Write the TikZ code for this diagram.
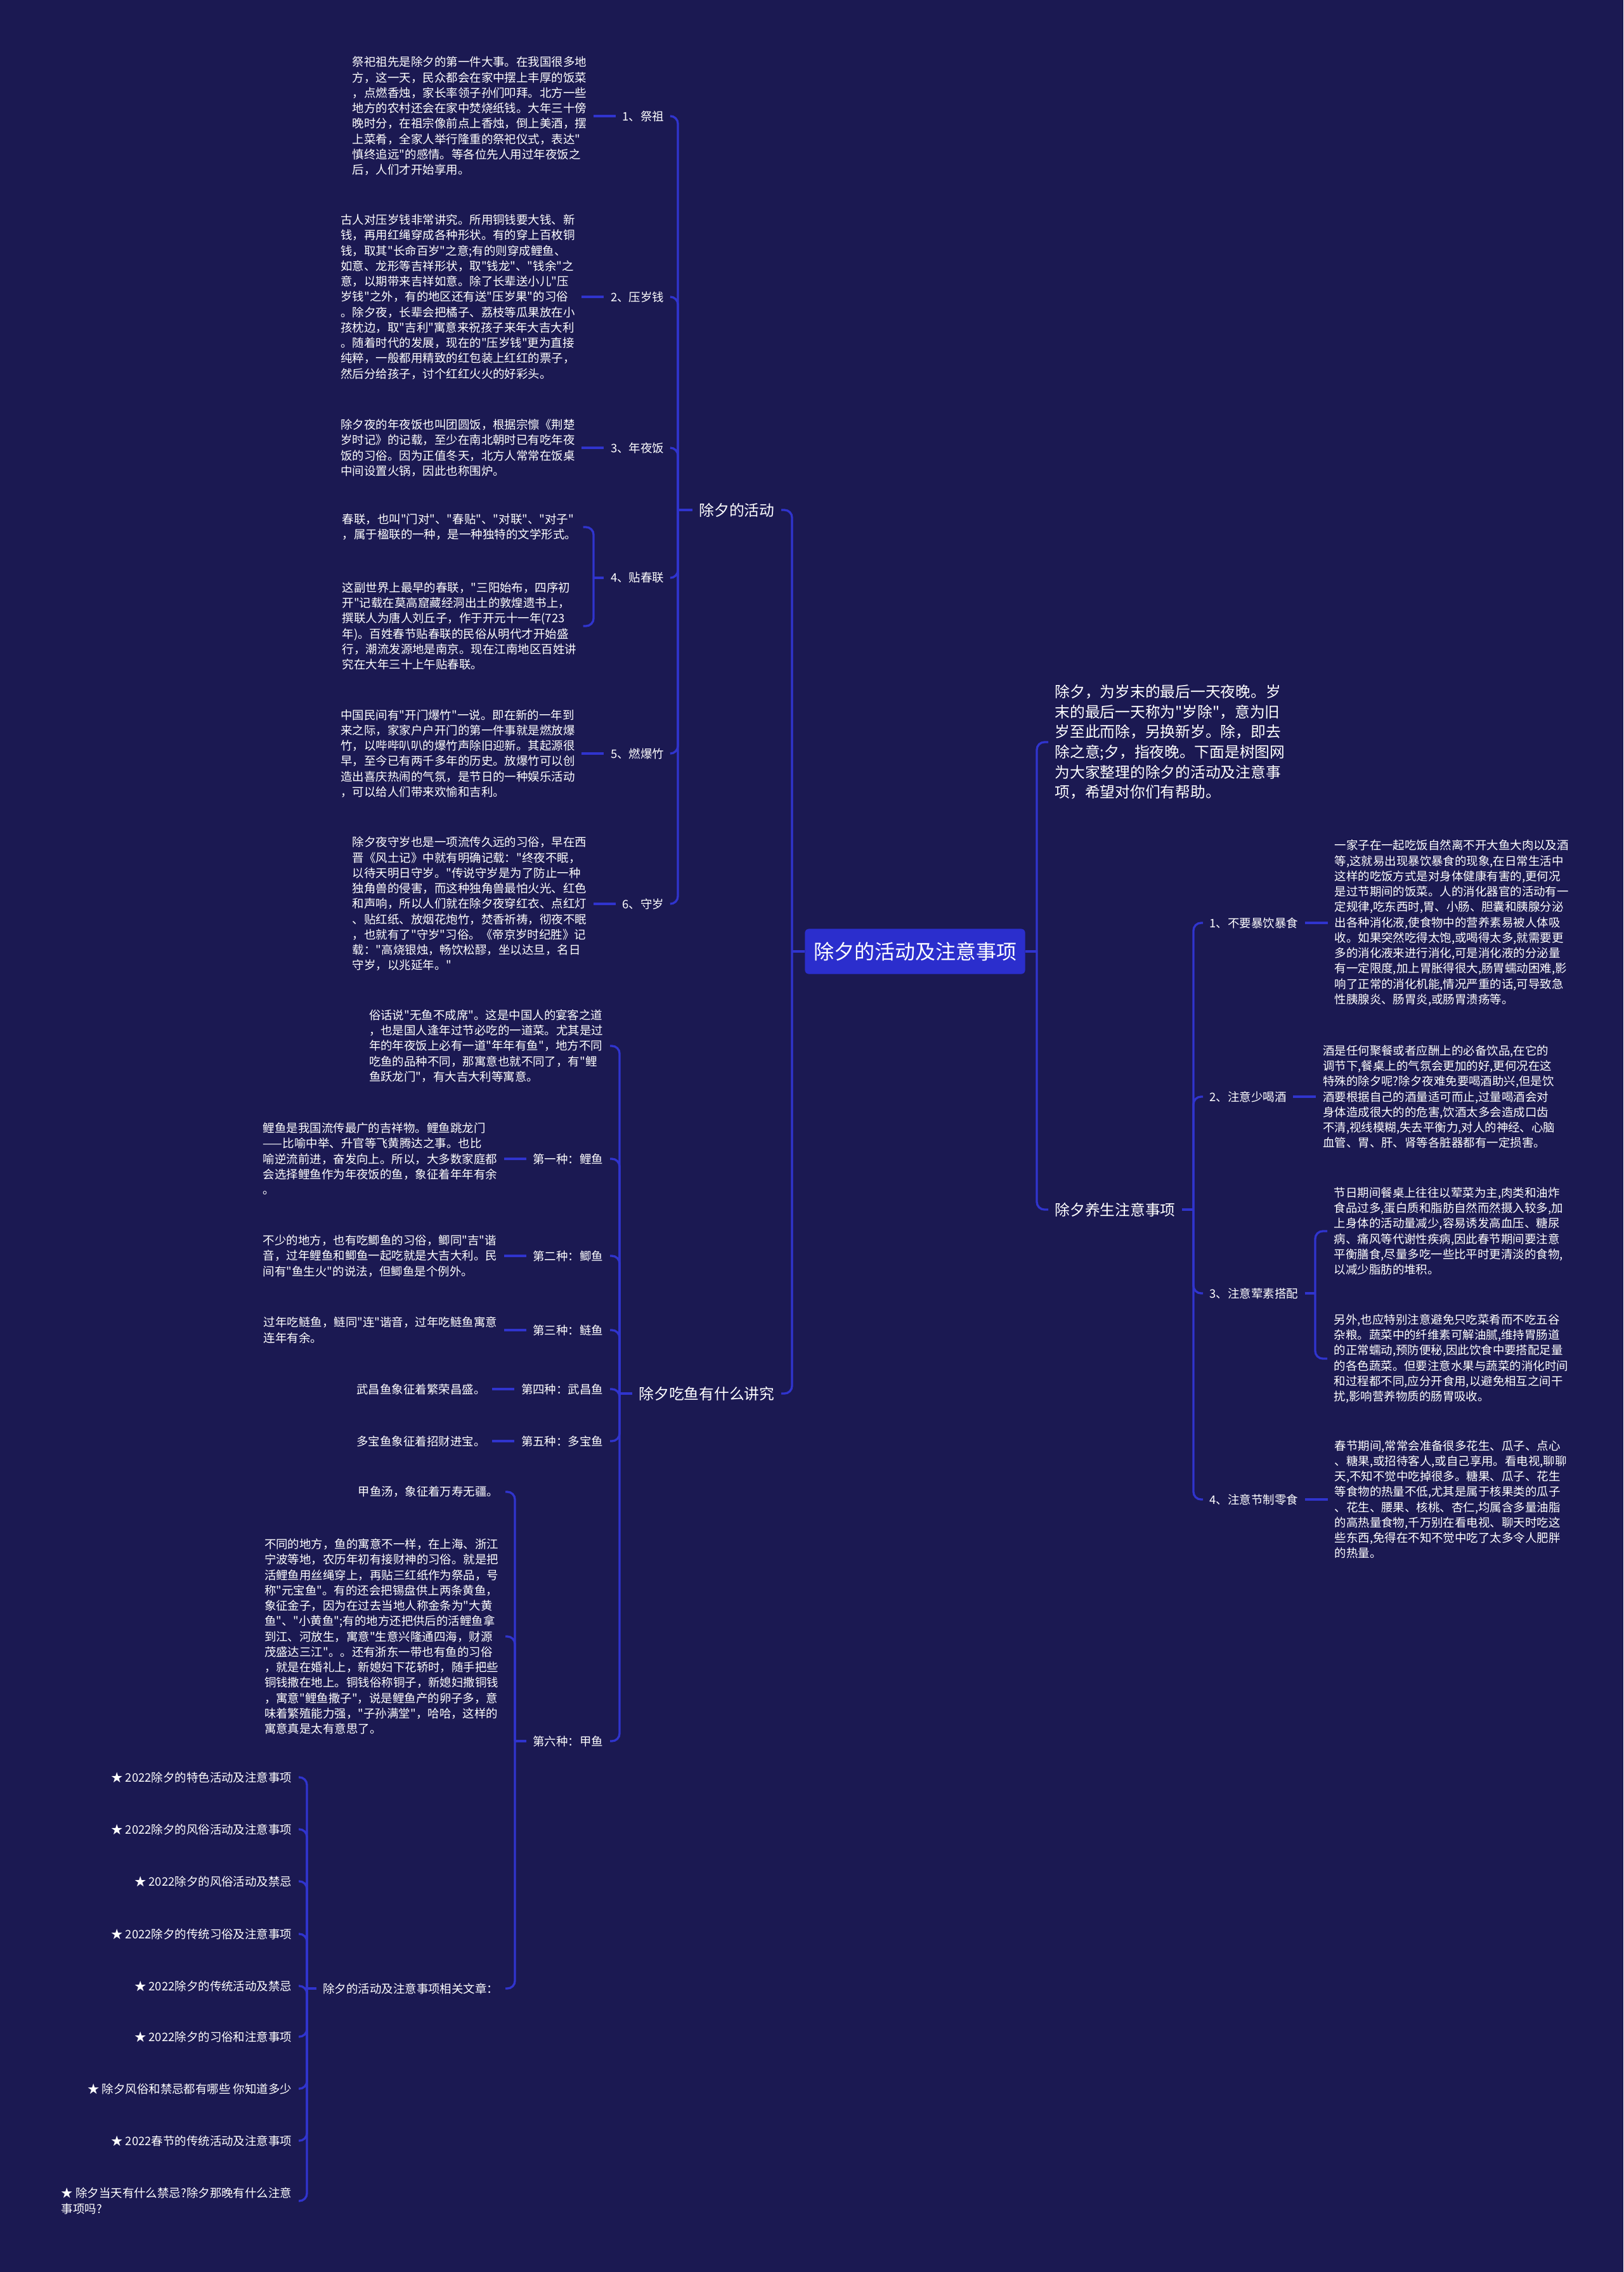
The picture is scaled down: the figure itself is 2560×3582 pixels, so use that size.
\documentclass[tikz,border=0pt]{standalone}
\usepackage{fontspec}
\setmainfont{Noto Sans CJK SC}[Ligatures=TeXOff]
\usetikzlibrary{positioning}
\definecolor{bgnavy}{RGB}{27,25,82}
\definecolor{linkblue}{RGB}{48,52,206}
\definecolor{rootblue}{RGB}{43,46,205}

\begin{document}
\begin{tikzpicture}[x=0.01cm, y=-0.01cm,
    every node/.style={text=white, inner sep=0.1cm},
    lab/.style={font=\fontsize{5.25}{6.9}\selectfont},
    para/.style={lab, align=left},
    mid/.style={font=\fontsize{6.75}{9}\selectfont, align=left},
    root/.style={fill=rootblue, rounded corners=0.06cm, font=\fontsize{9.1}{11}\selectfont, minimum width=3.47cm, minimum height=0.71cm},
    link/.style={draw=linkblue, line width=0.95pt, rounded corners=0.12cm}]

    \fill[bgnavy] (0,0) rectangle (2560,3582);
    \useasboundingbox (0,0) rectangle (2560,3582);

    % root
    \node[root] (root) at (1443,1500) {除夕的活动及注意事项};
    \coordinate (rootL) at (1249,1500);
    \coordinate (rootR) at (1635,1500);

    % right side
    \node[mid, anchor=west] (intro) at (1653,1170) {除夕，为岁末的最后一天夜晚。岁\\末的最后一天称为"岁除"，意为旧\\岁至此而除，另换新岁。除，即去\\除之意;夕，指夜晚。下面是树图网\\为大家整理的除夕的活动及注意事\\项，希望对你们有帮助。};
    \node[mid, anchor=west] (care) at (1653,1907) {除夕养生注意事项};
    \coordinate (careS) at (1882,1907);

    \node[lab, anchor=west] (care1) at (1897,1455) {1、不要暴饮暴食};
    \node[lab, anchor=west] (care2) at (1897,1729) {2、注意少喝酒};
    \node[lab, anchor=west] (care3) at (1897,2039) {3、注意荤素搭配};
    \node[lab, anchor=west] (care4) at (1897,2364) {4、注意节制零食};
    \coordinate (care3S) at (2074,2039);

    \node[para, right=0.36cm of care1] (care1t) {一家子在一起吃饭自然离不开大鱼大肉以及酒\\等,这就易出现暴饮暴食的现象,在日常生活中\\这样的吃饭方式是对身体健康有害的,更何况\\是过节期间的饭菜。人的消化器官的活动有一\\定规律,吃东西时,胃、小肠、胆囊和胰腺分泌\\出各种消化液,使食物中的营养素易被人体吸\\收。如果突然吃得太饱,或喝得太多,就需要更\\多的消化液来进行消化,可是消化液的分泌量\\有一定限度,加上胃胀得很大,肠胃蠕动困难,影\\响了正常的消化机能,情况严重的话,可导致急\\性胰腺炎、肠胃炎,或肠胃溃疡等。};
    \node[para, right=0.36cm of care2] (care2t) {酒是任何聚餐或者应酬上的必备饮品,在它的\\调节下,餐桌上的气氛会更加的好,更何况在这\\特殊的除夕呢?除夕夜难免要喝酒助兴,但是饮\\酒要根据自己的酒量适可而止,过量喝酒会对\\身体造成很大的的危害,饮酒太多会造成口齿\\不清,视线模糊,失去平衡力,对人的神经、心脑\\血管、胃、肝、肾等各脏器都有一定损害。};
    \node[para, anchor=west] (care3a) at (2093,1941) {节日期间餐桌上往往以荤菜为主,肉类和油炸\\食品过多,蛋白质和脂肪自然而然摄入较多,加\\上身体的活动量减少,容易诱发高血压、糖尿\\病、痛风等代谢性疾病,因此春节期间要注意\\平衡膳食,尽量多吃一些比平时更清淡的食物,\\以减少脂肪的堆积。};
    \node[para, anchor=west] (care3b) at (2093,2142) {另外,也应特别注意避免只吃菜肴而不吃五谷\\杂粮。蔬菜中的纤维素可解油腻,维持胃肠道\\的正常蠕动,预防便秘,因此饮食中要搭配足量\\的各色蔬菜。但要注意水果与蔬菜的消化时间\\和过程都不同,应分开食用,以避免相互之间干\\扰,影响营养物质的肠胃吸收。};
    \node[para, right=0.36cm of care4] (care4t) {春节期间,常常会准备很多花生、瓜子、点心\\、糖果,或招待客人,或自己享用。看电视,聊聊\\天,不知不觉中吃掉很多。糖果、瓜子、花生\\等食物的热量不低,尤其是属于核果类的瓜子\\、花生、腰果、核桃、杏仁,均属含多量油脂\\的高热量食物,千万别在看电视、聊天时吃这\\些东西,免得在不知不觉中吃了太多令人肥胖\\的热量。};

    \draw[link] (root.east) -- (rootR);
    \foreach \n in {intro,care} \draw[link] (\n.west) -| (rootR);
    \draw[link] (care.east) -- (careS);
    \foreach \n in {care1,care2,care3,care4} \draw[link] (\n.west) -| (careS);
    \foreach \n in {care1,care2,care4} \draw[link] (\n.east) -- (\n t.west);
    \draw[link] (care3.east) -- (care3S);
    \foreach \n in {care3a,care3b} \draw[link] (\n.west) -| (care3S);

    % left side: activities
    \node[mid, anchor=east] (act) at (1232,804) {除夕的活动};
    \coordinate (actS) at (1069,804);
    \node[lab, anchor=east] (act1) at (1058,183) {1、祭祖};
    \node[lab, anchor=east] (act2) at (1058,468) {2、压岁钱};
    \node[lab, anchor=east] (act3) at (1058,706) {3、年夜饭};
    \node[lab, anchor=east] (act4) at (1058,911) {4、贴春联};
    \node[lab, anchor=east] (act5) at (1058,1188) {5、燃爆竹};
    \node[lab, anchor=east] (act6) at (1058,1425) {6、守岁};
    \coordinate (act4S) at (936,911);

    \node[para, left=0.35cm of act1] (act1t) {祭祀祖先是除夕的第一件大事。在我国很多地\\方，这一天，民众都会在家中摆上丰厚的饭菜\\，点燃香烛，家长率领子孙们叩拜。北方一些\\地方的农村还会在家中焚烧纸钱。大年三十傍\\晚时分，在祖宗像前点上香烛，倒上美酒，摆\\上菜肴，全家人举行隆重的祭祀仪式，表达"\\慎终追远"的感情。等各位先人用过年夜饭之\\后，人们才开始享用。};
    \node[para, left=0.35cm of act2] (act2t) {古人对压岁钱非常讲究。所用铜钱要大钱、新\\钱，再用红绳穿成各种形状。有的穿上百枚铜\\钱，取其"长命百岁"之意;有的则穿成鲤鱼、\\如意、龙形等吉祥形状，取"钱龙"、"钱余"之\\意，以期带来吉祥如意。除了长辈送小儿"压\\岁钱"之外，有的地区还有送"压岁果"的习俗\\。除夕夜，长辈会把橘子、荔枝等瓜果放在小\\孩枕边，取"吉利"寓意来祝孩子来年大吉大利\\。随着时代的发展，现在的"压岁钱"更为直接\\纯粹，一般都用精致的红包装上红红的票子，\\然后分给孩子，讨个红红火火的好彩头。};
    \node[para, left=0.35cm of act3] (act3t) {除夕夜的年夜饭也叫团圆饭，根据宗懔《荆楚\\岁时记》的记载，至少在南北朝时已有吃年夜\\饭的习俗。因为正值冬天，北方人常常在饭桌\\中间设置火锅，因此也称围炉。};
    \node[para, anchor=west] (act4a) at (529,831) {春联，也叫"门对"、"春贴"、"对联"、"对子"\\，属于楹联的一种，是一种独特的文学形式。};
    \node[para, anchor=west] (act4b) at (529,987) {这副世界上最早的春联，"三阳始布，四序初\\开"记载在莫高窟藏经洞出土的敦煌遗书上，\\撰联人为唐人刘丘子，作于开元十一年(723\\年)。百姓春节贴春联的民俗从明代才开始盛\\行，潮流发源地是南京。现在江南地区百姓讲\\究在大年三十上午贴春联。};
    \node[para, left=0.35cm of act5] (act5t) {中国民间有"开门爆竹"一说。即在新的一年到\\来之际，家家户户开门的第一件事就是燃放爆\\竹，以哔哔叭叭的爆竹声除旧迎新。其起源很\\早，至今已有两千多年的历史。放爆竹可以创\\造出喜庆热闹的气氛，是节日的一种娱乐活动\\，可以给人们带来欢愉和吉利。};
    \node[para, left=0.35cm of act6] (act6t) {除夕夜守岁也是一项流传久远的习俗，早在西\\晋《风土记》中就有明确记载："终夜不眠，\\以待天明日守岁。"传说守岁是为了防止一种\\独角兽的侵害，而这种独角兽最怕火光、红色\\和声响，所以人们就在除夕夜穿红衣、点红灯\\、贴红纸、放烟花炮竹，焚香祈祷，彻夜不眠\\，也就有了"守岁"习俗。《帝京岁时纪胜》记\\载："高烧银烛，畅饮松醪，坐以达旦，名日\\守岁，以兆延年。"};

    % left side: fish
    \node[mid, anchor=east] (fish) at (1232,2197) {除夕吃鱼有什么讲究};
    \coordinate (fishS) at (977,2197);
    \node[para, anchor=east] (fish0) at (962,1649) {俗话说"无鱼不成席"。这是中国人的宴客之道\\，也是国人逢年过节必吃的一道菜。尤其是过\\年的年夜饭上必有一道"年年有鱼"，地方不同\\吃鱼的品种不同，那寓意也就不同了，有"鲤\\鱼跃龙门"，有大吉大利等寓意。};
    \node[lab, anchor=east] (fish1) at (962,1827) {第一种：鲤鱼};
    \node[lab, anchor=east] (fish2) at (962,1980) {第二种：鲫鱼};
    \node[lab, anchor=east] (fish3) at (962,2097) {第三种：鲢鱼};
    \node[lab, anchor=east] (fish4) at (962,2190) {第四种：武昌鱼};
    \node[lab, anchor=east] (fish5) at (962,2272) {第五种：多宝鱼};
    \node[lab, anchor=east] (fish6) at (962,2745) {第六种：甲鱼};
    \coordinate (fish6S) at (812,2745);

    \node[para, left=0.35cm of fish1] (fish1t) {鲤鱼是我国流传最广的吉祥物。鲤鱼跳龙门\\——比喻中举、升官等飞黄腾达之事。也比\\喻逆流前进，奋发向上。所以，大多数家庭都\\会选择鲤鱼作为年夜饭的鱼，象征着年年有余\\。};
    \node[para, left=0.35cm of fish2] (fish2t) {不少的地方，也有吃鲫鱼的习俗，鲫同"吉"谐\\音，过年鲤鱼和鲫鱼一起吃就是大吉大利。民\\间有"鱼生火"的说法，但鲫鱼是个例外。};
    \node[para, left=0.35cm of fish3] (fish3t) {过年吃鲢鱼，鲢同"连"谐音，过年吃鲢鱼寓意\\连年有余。};
    \node[para, left=0.35cm of fish4] (fish4t) {武昌鱼象征着繁荣昌盛。};
    \node[para, left=0.35cm of fish5] (fish5t) {多宝鱼象征着招财进宝。};
    \node[para, anchor=east] (fish6a) at (797,2352) {甲鱼汤，象征着万寿无疆。};
    \node[para, anchor=east] (fish6b) at (797,2580) {不同的地方，鱼的寓意不一样，在上海、浙江\\宁波等地，农历年初有接财神的习俗。就是把\\活鲤鱼用丝绳穿上，再贴三红纸作为祭品，号\\称"元宝鱼"。有的还会把锡盘供上两条黄鱼，\\象征金子，因为在过去当地人称金条为"大黄\\鱼"、"小黄鱼";有的地方还把供后的活鲤鱼拿\\到江、河放生，寓意"生意兴隆通四海，财源\\茂盛达三江"。。还有浙东一带也有鱼的习俗\\，就是在婚礼上，新媳妇下花轿时，随手把些\\铜钱撒在地上。铜钱俗称铜子，新媳妇撒铜钱\\，寓意"鲤鱼撒子"，说是鲤鱼产的卵子多，意\\味着繁殖能力强，"子孙满堂"，哈哈，这样的\\寓意真是太有意思了。};
    \node[lab, anchor=east] (rel) at (797,3135) {除夕的活动及注意事项相关文章：};
    \coordinate (relS) at (484,3135);

    \draw[link] (root.west) -- (rootL);
    \foreach \n in {act,fish} \draw[link] (\n.east) -| (rootL);
    \draw[link] (act.west) -- (actS);
    \foreach \n in {act1,act2,act3,act4,act5,act6} \draw[link] (\n.east) -| (actS);
    \foreach \n in {act1,act2,act3,act5,act6} \draw[link] (\n t.east) -- (\n.west);
    \draw[link] (act4.west) -- (act4S);
    \foreach \n in {act4a,act4b} \draw[link] (\n.east) -| (act4S);
    \draw[link] (fish.west) -- (fishS);
    \foreach \n in {fish0,fish1,fish2,fish3,fish4,fish5,fish6} \draw[link] (\n.east) -| (fishS);
    \foreach \n in {fish1,fish2,fish3,fish4,fish5} \draw[link] (\n t.east) -- (\n.west);
    \draw[link] (fish6.west) -- (fish6S);
    \foreach \n in {fish6a,fish6b,rel} \draw[link] (\n.east) -| (fish6S);
    \draw[link] (rel.west) -- (relS);

    % related articles
    \foreach \y/\t [count=\i] in {2802/{★ 2022除夕的特色活动及注意事项}, 2884/{★ 2022除夕的风俗活动及注意事项}, 2966/{★ 2022除夕的风俗活动及禁忌}, 3049/{★ 2022除夕的传统习俗及注意事项}, 3131/{★ 2022除夕的传统活动及禁忌}, 3211/{★ 2022除夕的习俗和注意事项}, 3293/{★ 除夕风俗和禁忌都有哪些 你知道多少}, 3375/{★ 2022春节的传统活动及注意事项}, 3470/{★ 除夕当天有什么禁忌?除夕那晚有什么注意\\事项吗?}} {
        \node[para, anchor=east] (rel\i) at (471,\y) {\t};
        \draw[link] (rel\i.east) -| (relS);
    }
\end{tikzpicture}
\end{document}
